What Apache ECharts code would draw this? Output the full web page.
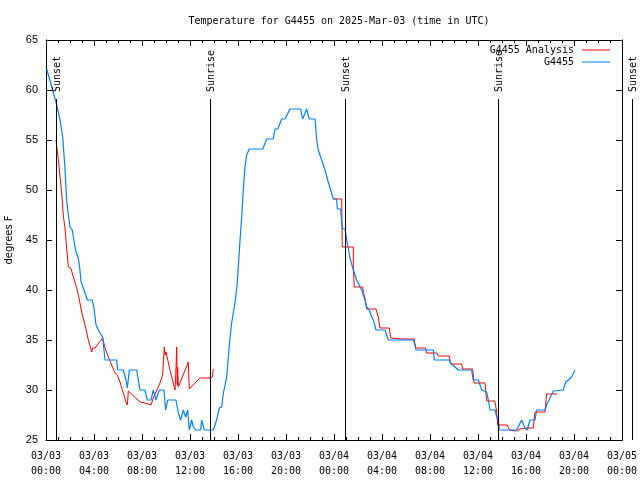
<!DOCTYPE html>
<html>
<head>
<meta charset="utf-8">
<script src="https://cdn.jsdelivr.net/npm/echarts@6/dist/echarts.min.js"></script>
<style>html,body{margin:0;padding:0;background:#fff;}#c{width:640px;height:480px;}</style>
</head>
<body>
<div id="c"></div>
<script>
// Hours since 2025-03-03 00:00 UTC
const tickLabels = ['03/03\n00:00','03/03\n04:00','03/03\n08:00','03/03\n12:00','03/03\n16:00','03/03\n20:00',
  '03/04\n00:00','03/04\n04:00','03/04\n08:00','03/04\n12:00','03/04\n16:00','03/04\n20:00','03/05\n00:00'];

const obsTimes = [0.06,0.83,1.17,1.39,1.58,1.72,1.86,2.0,2.19,2.36,2.5,2.69,2.83,2.92,3.11,3.31,3.44,3.86,4.0,4.17,4.44,4.72,4.92,5.89,5.97,6.44,6.67,6.78,6.94,7.56,7.83,8.25,8.44,8.75,8.94,9.17,9.44,9.83,9.97,10.14,10.83,11.03,11.22,11.44,11.64,11.81,11.94,12.14,12.28,12.47,12.89,12.97,13.19,13.94,14.14,14.28,14.44,14.64,14.78,15.06,15.3,15.47,15.75,15.94,16.17,16.31,16.44,16.58,16.72,16.94,18.06,18.39,18.94,19.08,19.31,19.64,19.92,20.33,21.22,21.39,21.72,21.94,22.42,22.56,22.69,22.97,23.25,23.47,23.72,23.94,24.22,24.28,24.56,24.64,24.72,24.92,25.06,25.19,25.33,25.47,25.61,25.75,25.89,26.03,26.17,26.31,26.44,26.58,26.72,26.94,27.14,27.28,27.5,28.25,28.53,30.61,30.75,30.83,32.28,32.36,33.6,33.72,34.36,35.47,35.6,36.03,36.31,36.72,36.86,37.0,37.42,37.56,37.69,37.78,39.22,39.64,39.92,40.1,40.33,40.75,40.89,41.58,41.72,41.92,42.08,42.28,42.42,43.1,43.31,43.53,43.81,44.08];
const obsValues = [62.1,58.8,57.0,55.3,52.2,49.0,47.5,46.3,46.0,44.7,43.8,43.2,42.0,40.8,40.2,39.5,39.0,39.0,38.2,36.5,35.8,35.3,33.0,33.0,32.0,32.0,31.0,30.2,32.0,32.0,30.0,30.0,29.0,29.0,30.0,29.0,30.0,30.0,28.0,29.0,29.0,27.7,27.0,28.0,27.3,28.0,26.0,27.0,26.3,26.0,26.0,27.0,26.0,26.0,26.7,27.3,28.2,28.3,29.7,31.3,34.8,36.7,38.7,40.7,45.0,47.3,50.0,52.3,53.5,54.1,54.1,55.1,55.1,56.1,56.1,57.1,57.1,58.1,58.1,57.1,58.1,57.1,57.1,55.0,54.0,53.0,52.0,51.0,50.0,49.1,49.1,48.1,48.1,46.7,46.1,46.1,45.0,44.2,43.2,43.0,42.0,41.5,41.0,40.8,40.3,40.0,39.8,39.0,38.3,38.0,37.3,37.0,36.0,36.0,35.0,35.0,34.5,34.0,34.0,33.0,33.0,32.7,32.0,32.0,31.0,31.0,30.0,29.8,29.0,28.0,28.0,27.3,27.0,26.0,26.0,27.0,26.2,26.0,27.0,27.0,28.0,28.0,28.5,29.0,29.0,29.9,30.0,30.0,30.8,31.0,31.3,32.0];

const anaTimes = [0.83,1.03,1.17,1.31,1.44,1.58,1.72,1.86,2.06,2.28,2.56,2.78,2.97,3.25,3.53,3.81,3.89,4.08,4.72,4.92,5.19,5.47,5.75,5.94,6.17,6.44,6.67,6.78,6.86,7.0,7.83,8.25,8.75,8.94,9.5,9.72,9.86,9.92,10.0,10.33,10.75,10.83,10.89,10.94,10.97,11.03,11.86,11.94,12.83,12.97,13.67,13.86,13.94,18.0,23.94,24.64,24.69,25.61,25.61,25.69,26.39,26.44,26.58,26.72,27.5,27.69,27.83,28.61,28.72,29.72,30.67,30.81,31.64,31.72,32.56,32.69,33.61,33.72,34.64,34.72,35.56,35.67,36.58,36.72,37.4,37.56,37.64,38.44,38.61,39.2,39.5,40.06,40.6,40.75,41.58,41.72,42.6];
const anaValues = [55.0,53.0,51.3,49.7,47.5,46.2,44.2,42.3,42.2,41.3,40.2,39.0,37.8,36.5,35.0,33.8,34.2,34.2,35.2,34.2,33.3,32.5,31.7,31.5,30.8,29.7,28.8,28.5,29.9,29.8,28.8,28.7,28.5,29.2,30.7,31.5,34.3,33.5,33.8,32.0,30.0,32.0,34.3,30.5,32.3,30.3,32.8,30.1,31.2,31.0,31.2,31.3,32.1,null,49.1,49.1,44.3,44.3,42.3,40.3,40.3,39.8,39.2,38.1,38.1,37.3,36.2,36.2,35.2,35.1,35.1,34.2,34.2,33.7,33.7,33.4,33.4,32.6,32.6,32.1,32.1,30.7,30.7,28.9,28.9,27.8,26.5,26.5,26.0,25.9,26.1,26.2,26.2,27.8,27.8,29.6,29.6];

const sunTimes = [0.83, 13.67, 24.92, 37.67, 48.83];
const sunLabels = ['Sunset', 'Sunrise', 'Sunset', 'Sunrise', 'Sunset'];

const MONO = '"DejaVu Sans Mono", "Liberation Mono", monospace';

const chart = echarts.init(document.getElementById('c'), null, {renderer: 'canvas'});

function pairs(ts, vs) { return ts.map((t, i) => [t, vs[i]]); }

function renderSun(params, api) {
  const t = api.value(0);
  const b = api.coord([t, 25]);
  const tp = api.coord([t, 65]);
  const x = Math.round(b[0]) + 0.5;
  const textBase = tp[1] + 52;
  return {
    type: 'group',
    children: [
      {type: 'line', shape: {x1: x, y1: textBase + 7, x2: x, y2: b[1]}, style: {stroke: '#000', lineWidth: 1}},
      {type: 'text', x: x + 1, y: textBase, rotation: Math.PI / 2,
       style: {text: sunLabels[params.dataIndex], font: '10px ' + MONO, fill: '#000', align: 'left', verticalAlign: 'middle'}}
    ]
  };
}

const xAxisBase = {
  type: 'value', min: 0, max: 48, interval: 4,
  axisLine: {show: true, onZero: false, lineStyle: {color: '#000', width: 1}},
  axisTick: {show: true, inside: true, length: 6, lineStyle: {color: '#000'}},
  minorTick: {show: true, splitNumber: 4, length: 3, lineStyle: {color: '#000'}},
  splitLine: {show: false}, minorSplitLine: {show: false}
};
const yAxisBase = {
  type: 'value', min: 25, max: 65, interval: 5,
  axisLine: {show: true, onZero: false, lineStyle: {color: '#000', width: 1}},
  axisTick: {show: true, inside: true, length: 6, lineStyle: {color: '#000'}},
  splitLine: {show: false}
};

chart.setOption({
  animation: false,
  backgroundColor: '#fff',
  title: {
    text: 'Temperature for G4455 on 2025-Mar-03 (time in UTC)',
    left: 334, top: 11, textAlign: 'center',
    textStyle: {fontFamily: MONO, fontSize: 10, fontWeight: 'normal', color: '#000'}
  },
  legend: {
    data: ['G4455 Analysis', 'G4455'],
    orient: 'vertical', align: 'right', right: 30, top: 44, padding: 0,
    itemWidth: 28, itemHeight: 1, itemGap: 0, icon: 'rect',
    textStyle: {fontFamily: MONO, fontSize: 10, color: '#000', lineHeight: 12, padding: [0, 3, 0, 0]}
  },
  grid: {left: 46, right: 18, top: 40, bottom: 40, containLabel: false, outerBoundsMode: 'none'},
  xAxis: [
    Object.assign({}, xAxisBase, {
      position: 'bottom',
      axisLabel: {show: true, margin: 9, lineHeight: 15, fontFamily: MONO, fontSize: 10, color: '#000',
        formatter: v => tickLabels[Math.round(v / 4)]}
    }),
    Object.assign({}, xAxisBase, {position: 'top', axisLabel: {show: false}})
  ],
  yAxis: [
    Object.assign({}, yAxisBase, {
      position: 'left',
      name: 'degrees F', nameLocation: 'middle', nameGap: 30, nameRotate: 90,
      nameTextStyle: {fontFamily: '"DejaVu Sans", sans-serif', fontSize: 10, color: '#000'},
      axisLabel: {show: true, margin: 8, fontFamily: '"Liberation Sans", Arial, sans-serif', fontSize: 11, color: '#000'}
    }),
    Object.assign({}, yAxisBase, {position: 'right', axisLabel: {show: false}})
  ],
  series: [
    {
      name: 'G4455 Analysis', type: 'line', data: pairs(anaTimes, anaValues),
      showSymbol: false, symbol: 'none', connectNulls: false,
      lineStyle: {color: '#ff0000', width: 1}, itemStyle: {color: '#ff0000'}
    },
    {
      name: 'G4455', type: 'line', data: pairs(obsTimes, obsValues),
      showSymbol: false, symbol: 'none',
      lineStyle: {color: '#0080ff', width: 1.2}, itemStyle: {color: '#0080ff'}
    },
    {
      name: 'sun', type: 'custom', data: sunTimes.map(t => [t, 25]),
      encode: {x: 0, y: 1}, renderItem: renderSun, clip: false, silent: true, z: 5
    }
  ]
});
</script>
</body>
</html>
